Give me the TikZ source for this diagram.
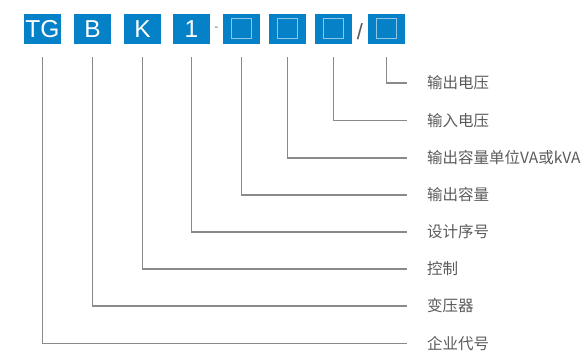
\documentclass[tikz,border=0pt]{standalone}
\usepackage{fontspec}
\setmainfont{Liberation Sans}
\newfontfamily\cjk{Noto Sans CJK SC}
\definecolor{boxblue}{HTML}{0581C8}
\definecolor{linegray}{HTML}{8A8A8A}
\definecolor{txtgray}{HTML}{5A5A5A}
\tikzset{
  codebox/.style={fill=boxblue, minimum width=37pt, minimum height=30pt, inner sep=0pt,
    text=white, font=\fontsize{24.5}{24.5}\selectfont},
  holebox/.style={codebox},
  hole/.style={draw=white!55!boxblue, line width=1pt, minimum width=20pt, minimum height=20pt, inner sep=0pt},
  conn/.style={draw=linegray, line width=1.2pt, shorten <=13pt, shorten >=20pt},
  lbl/.style={anchor=west, inner sep=0pt, text=txtgray, font=\cjk\fontsize{15.5}{15.5}\selectfont},
  sep/.style={text=txtgray, inner sep=0pt}
}
\begin{document}
\begin{tikzpicture}[x=1pt,y=-1pt]
\useasboundingbox (0,0) rectangle (587,352);
% code boxes
\node[codebox] (b1) at (42.5,29) {TG};
\node[codebox] (b2) at (92.5,29) {B};
\node[codebox] (b3) at (142.5,29) {K};
\node[codebox] (b4) at (191.5,29) {1};
\node[holebox] (b5) at (241.5,29) {};
\node[holebox] (b6) at (287.5,29) {};
\node[holebox] (b7) at (333.5,29) {};
\node[holebox] (b8) at (386.5,29) {};
\node[hole] (h5) at (b5.center) {};
\node[hole] (h6) at (b6.center) {};
\node[hole] (h7) at (b7.center) {};
\node[hole] (h8) at (b8.center) {};
\node[sep, font=\fontsize{11}{11}\selectfont] (dash) at (216.5,28.5) {-};
\node[sep, font=\fontsize{22}{22}\selectfont] (slash) at (360,32) {/};
% labels
\node[lbl] (t8) at (427,83) {输出电压};
\node[lbl] (t7) at (427,120.5) {输入电压};
\node[lbl] (t6) at (427,158) {输出容量单位VA或kVA};
\node[lbl] (t5) at (427,195) {输出容量};
\node[lbl] (t4) at (427,232) {设计序号};
\node[lbl] (t3) at (427,269) {控制};
\node[lbl] (t2) at (427,306) {变压器};
\node[lbl] (t1) at (427,343.5) {企业代号};
% connectors
\foreach \i in {1,...,8}{
  \draw[conn] (b\i.south) |- (t\i.west);
}
\end{tikzpicture}
\end{document}
